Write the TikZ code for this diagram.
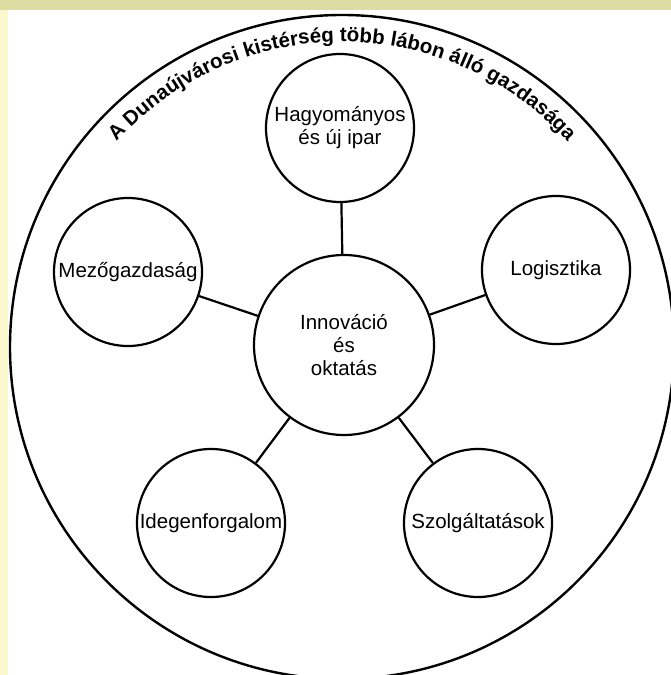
\documentclass[tikz,border=0pt]{standalone}
\usepackage{fontspec}
\setmainfont{Liberation Sans}
\usetikzlibrary{decorations.text}
\definecolor{topband}{RGB}{221,220,163}
\definecolor{leftband}{RGB}{250,247,204}
\begin{document}
\begin{tikzpicture}[x=1bp,y=1bp,
  bubble/.style={circle,draw,line width=2.2bp,minimum size=148bp,inner sep=0pt,align=center,
    font=\fontsize{20.5bp}{23bp}\selectfont},
  link/.style={line width=2.2bp},
  frame/.style={circle,draw,line width=2.4bp,minimum size=664bp,inner sep=0pt}]
\useasboundingbox (0,0) rectangle (671,-675);
\clip (0,0) rectangle (671,-675);
\fill[white] (0,0) rectangle (671,-675);
\fill[leftband] (0,0) rectangle (8,-675);
\fill[topband] (0,0) rectangle (671,-10);
% outer frame
\node[frame] (outer) at (342,-347) {};
% title along the arc
\path[decorate,decoration={text along path,text align=center,
  text={|\fontsize{20.5bp}{21bp}\selectfont\bfseries|A Dunaújvárosi kistérség több lábon álló gazdasága}}]
  (outer.center) ++(138:305) arc[start angle=138,end angle=42,radius=305];
% nodes
\node[bubble,minimum size=180bp] (inno) at (344,-345) {Innováció\\és\\oktatás};
\node[bubble] (ipar) at (340,-128) {Hagyományos\\és új ipar};
\node[bubble] (logi) at (556,-270) {Logisztika};
\node[bubble] (mezo) at (128,-272) {Mezőgazdaság};
\node[bubble] (ideg) at (211,-523) {Idegenforgalom};
\node[bubble] (szolg) at (478,-523) {Szolgáltatások};
% connectors
\draw[link] (inno) -- (ipar);
\draw[link] (inno) -- (logi);
\draw[link] (inno) -- (mezo);
\draw[link] (inno) -- (ideg);
\draw[link] (inno) -- (szolg);
\end{tikzpicture}
\end{document}
